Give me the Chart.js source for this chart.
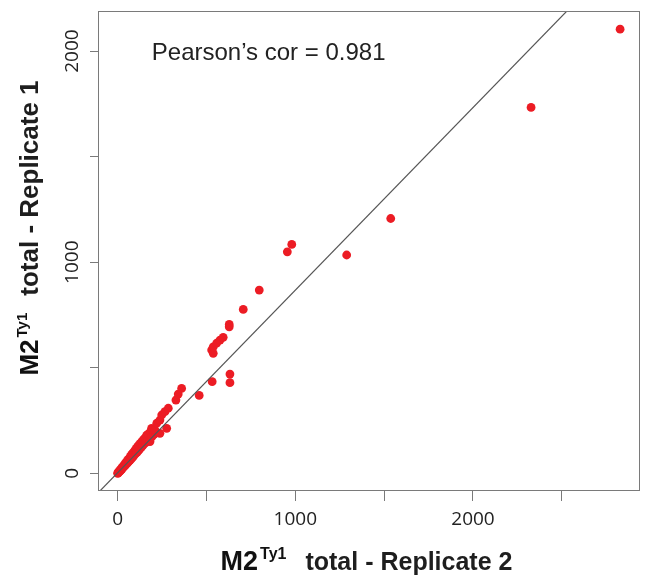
<!DOCTYPE html>
<html><head><meta charset="utf-8">
<script src="https://cdn.jsdelivr.net/npm/chart.js@4/dist/chart.umd.min.js"></script>
<style>html,body{margin:0;padding:0;background:#fff}</style>
</head><body>
<canvas id="c" width="646" height="585"></canvas>
<script>
// ---- data ----
const replicate2 = [0,2,4,6,9,11,13,16,18,21,24,26,29,31,34,37,40,42,45,48,52,54,58,60,63,66,70,72,76,78,82,85,88,92,95,98,102,105,110,112,118,120,125,128,134,136,142,145,150,155,160,163,170,172,180,182,185,191,192,196,205,210,220,238,238,248,266,276,285,328,341,360,459,532,632,632,529,538,538,557,576,594,628,628,707,797,955,980,1289,1537,2327,2828];
const replicate1 = [0,3,2,7,8,12,10,17,15,22,20,28,26,34,30,40,35,46,40,52,46,60,52,66,56,72,62,80,68,88,74,95,80,102,88,110,94,118,100,126,108,134,116,142,124,150,132,160,140,168,146,180,154,186,160,150,196,213,172,205,184,205,237,252,189,276,292,213,308,347,375,402,369,434,429,470,584,568,599,616,631,644,694,705,776,868,1049,1084,1034,1207,1733,2104];
const xTicks = [0,500,1000,1500,2000,2500];
const yTicks = [0,500,1000,1500,2000];
const labelEvery = 1000;
const xRange = [-105, 2940];
const yRange = [-84, 2190];
const fitIntercept = 2.5;
const fitSlope = 0.865;
const corLabel = 'Pearson\u2019s cor = 0.981';
const corLabelAt = [850, 1990];
const xTitle = ['M2', 'Ty1', 'total - Replicate 2'];
const yTitle = ['M2', 'Ty1', 'total - Replicate 1'];

const points = replicate2.map((x, i) => ({x, y: replicate1[i]}));
const fitLine = xRange.map(x => ({x, y: fitIntercept + fitSlope * x}));

const AXIS = '#7a7a7a';
const TXT = '#222';

const boxPlugin = {
  id: 'box',
  afterDatasetsDraw(chart) {
    const {ctx, chartArea: a} = chart;
    ctx.save();
    ctx.strokeStyle = AXIS; ctx.lineWidth = 1;
    ctx.strokeRect(Math.round(a.left) - 0.5, Math.round(a.top) + 0.5, Math.round(a.right - a.left), Math.round(a.bottom - a.top) - 1);
    ctx.restore();
  }
};

function drawTitle(ctx, parts, sizes, gap) {
  const f = s => 'bold ' + s + 'px "Liberation Sans", Arial, sans-serif';
  ctx.font = f(sizes[0]); const w0 = ctx.measureText(parts[0]).width;
  ctx.font = f(sizes[1]); const w1 = ctx.measureText(parts[1]).width;
  ctx.font = f(sizes[2]); const w2 = ctx.measureText(parts[2]).width;
  const total = w0 + 2 + w1 + gap + w2;
  let x = -total / 2;
  ctx.fillStyle = '#111';
  ctx.textBaseline = 'alphabetic'; ctx.textAlign = 'left';
  ctx.font = f(sizes[0]); ctx.fillText(parts[0], x, 0); x += w0 + 2;
  ctx.font = f(sizes[1]); ctx.fillText(parts[1], x, -11); x += w1 + gap;
  ctx.font = f(sizes[2]); ctx.fillStyle = '#1e1e1e'; ctx.fillText(parts[2], x, 0);
}

const textPlugin = {
  id: 'texts',
  afterDraw(chart) {
    const {ctx, chartArea: a, scales} = chart;
    ctx.save();
    // correlation annotation
    ctx.font = '24px "Liberation Sans", Arial, sans-serif';
    ctx.fillStyle = TXT; ctx.textAlign = 'center'; ctx.textBaseline = 'middle';
    ctx.fillText(corLabel, scales.x.getPixelForValue(corLabelAt[0]), scales.y.getPixelForValue(corLabelAt[1]));
    // x title
    ctx.save();
    ctx.translate((a.left + a.right) / 2 - 3, 570);
    drawTitle(ctx, xTitle, [27, 16, 25], 19);
    ctx.restore();
    // y title
    ctx.save();
    ctx.translate(38, (a.top + a.bottom) / 2 - 23);
    ctx.rotate(-Math.PI / 2);
    drawTitle(ctx, yTitle, [26, 15, 26], 17);
    ctx.restore();
    ctx.restore();
  }
};

new Chart(document.getElementById('c'), {
  data: {
    datasets: [
      {type: 'line', data: fitLine, borderColor: '#555', borderWidth: 1.2, pointRadius: 0, clip: 0, order: 0},
      {type: 'scatter', data: points, pointRadius: 4.4, pointHoverRadius: 4.4, pointBackgroundColor: '#ec1c24', pointBorderWidth: 0, borderWidth: 0, order: 1}
    ]
  },
  options: {
    responsive: false, animation: false, devicePixelRatio: 1,
    layout: {padding: {top: 11, right: 6, left: 0, bottom: 0}},
    plugins: {legend: {display: false}, tooltip: {enabled: false}},
    scales: {
      x: {
        type: 'linear', position: 'bottom', min: xRange[0], max: xRange[1],
        afterBuildTicks: s => { s.ticks = xTicks.map(v => ({value: v})); },
        afterFit: s => { s.height = 94; },
        ticks: {callback: v => v % labelEvery === 0 ? String(v) : '', font: {family: '"Open Sans"', size: 19}, color: TXT, padding: 7, maxRotation: 0, autoSkip: false},
        grid: {display: true, drawOnChartArea: false, drawTicks: true, tickLength: 10, color: AXIS},
        border: {display: false}
      },
      y: {
        type: 'linear', position: 'left', min: yRange[0], max: yRange[1],
        afterBuildTicks: s => { s.ticks = yTicks.map(v => ({value: v})); },
        afterFit: s => { s.width = 99; },
        ticks: {callback: v => v % labelEvery === 0 ? String(v) : '', font: {family: '"Open Sans"', size: 19}, color: TXT, padding: -4, minRotation: 90, maxRotation: 90, crossAlign: 'center', autoSkip: false},
        grid: {display: true, drawOnChartArea: false, drawTicks: true, tickLength: 9, color: AXIS},
        border: {display: false}
      }
    }
  },
  plugins: [boxPlugin, textPlugin]
});
</script>
</body></html>
